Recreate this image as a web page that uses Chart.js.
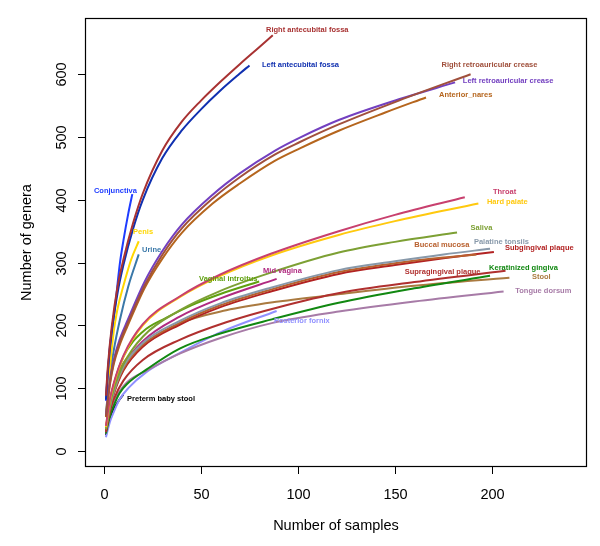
<!DOCTYPE html>
<html>
<head>
<meta charset="utf-8">
<title>Rarefaction curves</title>
<script src="https://cdn.jsdelivr.net/npm/chart.js@4.4.1/dist/chart.umd.min.js"></script>
<style>
    html, body { margin: 0; padding: 0; background: #fff; }
    #wrap { width: 600px; height: 546px; }
</style>
</head>
<body>
<div id="wrap"><canvas id="rarefactionChart" width="600" height="546"></canvas></div>
<script>
// Rarefaction curves: [number of samples, number of genera]
const rightAntecubitalFossa = [[1,88],[2,135],[4,198],[7,262],[10,305],[15,363],[20,410],[30,478],[40,524],[50,558],[60,588],[70,616],[80,643],[87,662]];
const leftAntecubitalFossa = [[1,82],[2,128],[4,190],[7,252],[10,296],[15,354],[20,400],[30,466],[40,510],[50,544],[60,574],[70,601],[75,614]];
const rightRetroauricularCrease = [[1,55],[3,108],[5,141],[8,172],[12,202],[21,264],[30,312],[40,354],[56,402],[70,436],[88,472],[101,492],[121,520],[152,558],[189,600]];
const leftRetroauricularCrease = [[1,58],[3,112],[5,145],[8,177],[12,207],[21,270],[30,318],[40,360],[56,408],[70,442],[88,478],[101,499],[121,527],[152,560],[181,587]];
const anteriorNares = [[1,54],[3,105],[5,138],[8,168],[12,198],[21,260],[30,306],[40,347],[56,394],[70,426],[88,462],[101,482],[121,510],[145,539],[166,563]];
const throat = [[1,40],[3,82],[5,108],[10,152],[20,202],[39,246],[60,281],[86,314],[121,350],[150,376],[186,404]];
const hardPalate = [[1,38],[3,80],[5,106],[10,150],[20,200],[39,245],[60,279],[86,311],[121,344],[150,366],[193,394]];
const saliva = [[1,35],[3,74],[5,98],[10,138],[20,182],[39,224],[60,255],[86,284],[121,316],[150,333],[182,348]];
const palatineTonsils = [[1,35],[3,70],[5,94],[10,134],[20,172],[39,207],[60,235],[86,260],[121,288],[150,302],[175,313],[199,322]];
const buccalMucosa = [[1,34],[3,68],[5,92],[10,131],[20,169],[39,204],[60,232],[86,257],[121,285],[150,299],[175,308],[192,313]];
const subgingivalPlaque = [[1,33],[3,66],[5,90],[10,128],[20,166],[39,201],[60,229],[86,254],[121,282],[150,296],[175,307],[201,317]];
const supragingivalPlaque = [[1,30],[3,62],[5,82],[10,112],[20,145],[39,177],[63,205],[90,229],[122,252],[160,269],[207,287]];
const keratinizedGingiva = [[1,28],[3,55],[5,72],[8,92],[12,107],[22,130],[39,163],[60,187],[87,210],[121,236],[160,259],[199,279]];
const stool = [[1,35],[3,78],[5,105],[10,140],[20,168],[39,203],[63,224],[90,238],[122,250],[160,263],[209,276]];
const tongueDorsum = [[1,30],[3,60],[5,78],[8,95],[12,110],[22,128],[39,155],[60,180],[87,204],[121,222],[160,238],[206,254]];
const posteriorFornix = [[1,22],[3,46],[5,62],[8,82],[12.5,100],[22,126],[39,156],[60,189],[89,223]];
const midVagina = [[1,32],[3,70],[5,95],[10,135],[20,175],[39,214],[60,243],[89,274]];
const vaginalIntroitus = [[1,35],[3,78],[5,105],[10,150],[20,190],[32,212],[45,232],[60,250],[80,270]];
const conjunctiva = [[1,80],[3,165],[5.7,230],[8.2,299],[10,335],[12.5,378],[14.6,409]];
const penis = [[1,55],[3,130],[5,190],[6.5,219],[8,240],[10.8,272],[14,305],[17.9,334]];
const urine = [[1,60],[3,120],[5,160],[8.2,209],[12.5,262],[17.9,313]];
const pretermBabyStool = [[1,25],[2,42],[4,60],[6,72],[8,82],[10,90]];

const siteNames = ['Right antecubital fossa', 'Left antecubital fossa', 'Right retroauricular crease',
    'Left retroauricular crease', 'Anterior_nares', 'Throat', 'Hard palate', 'Saliva', 'Palatine tonsils',
    'Buccal mucosa', 'Subgingival plaque', 'Supragingival plaque', 'Keratinized gingiva', 'Stool',
    'Tongue dorsum', 'Posterior fornix', 'Mid vagina', 'Vaginal introitus', 'Conjunctiva', 'Penis',
    'Urine', 'Preterm baby stool'];
const siteCurves = [rightAntecubitalFossa, leftAntecubitalFossa, rightRetroauricularCrease,
    leftRetroauricularCrease, anteriorNares, throat, hardPalate, saliva, palatineTonsils,
    buccalMucosa, subgingivalPlaque, supragingivalPlaque, keratinizedGingiva, stool,
    tongueDorsum, posteriorFornix, midVagina, vaginalIntroitus, conjunctiva, penis,
    urine, pretermBabyStool];
const siteColors = ['#A83232', '#1030B0', '#A0503C', '#7340C0', '#B5651D', '#C8406E', '#FFC90E',
    '#7DA034', '#8899AA', '#B8602E', '#B22222', '#B0302F', '#118811', '#AA7A40', '#A77BA7',
    '#9090FF', '#B02A80', '#5FA00F', '#1E3CFF', '#FFD700', '#3A78A8', '#000000'];

const xTicks = [0, 50, 100, 150, 200];
const yTicks = [0, 100, 200, 300, 400, 500, 600];

// where each site name is written (data units, left edge of the text)
const labelAt = [[83.5,670],[81.4,615],[174,615],[185,589],[172.7,567],[200.5,412],[197.4,396],
    [189,355],[190.7,333],[160,328],[206.7,323],[155,285],[198.5,291],[220.6,277],[212,255],
    [87.6,207],[82,287],[49,274],[-5.2,414],[15,349],[19.6,320],[11.9,83]];

const FONT = '"Liberation Sans", Arial, Helvetica, sans-serif';

// R-like box, ticks, tick labels, titles and curve labels
const rStylePlot = {
    id: 'rStylePlot',
    afterDatasetsDraw(chart) {
        const { ctx, chartArea: area, scales } = chart;
        const x = scales.x, y = scales.y;
        ctx.save();
        ctx.strokeStyle = '#000';
        ctx.fillStyle = '#000';
        ctx.lineWidth = 1.2;
        ctx.strokeRect(area.left + 0.5, area.top + 0.5, area.right - area.left - 1, area.bottom - area.top - 1);

        ctx.font = '14.5px ' + FONT;
        ctx.textAlign = 'center';
        ctx.textBaseline = 'middle';
        ctx.lineWidth = 1;
        xTicks.forEach(v => {
            const px = Math.round(x.getPixelForValue(v)) + 0.5;
            ctx.beginPath();
            ctx.moveTo(px, area.bottom);
            ctx.lineTo(px, area.bottom + 7);
            ctx.stroke();
            ctx.fillText(String(v), px, area.bottom + 28);
        });
        yTicks.forEach(v => {
            const py = Math.round(y.getPixelForValue(v)) + 0.5;
            ctx.beginPath();
            ctx.moveTo(area.left - 7, py);
            ctx.lineTo(area.left, py);
            ctx.stroke();
            ctx.save();
            ctx.translate(area.left - 23, py);
            ctx.rotate(-Math.PI / 2);
            ctx.fillText(String(v), 0, 0);
            ctx.restore();
        });

        ctx.fillText('Number of samples', (area.left + area.right) / 2, 526);
        ctx.save();
        ctx.translate(27, (area.top + area.bottom) / 2);
        ctx.rotate(-Math.PI / 2);
        ctx.fillText('Number of genera', 0, 0);
        ctx.restore();

        ctx.font = 'bold 7.5px ' + FONT;
        ctx.textAlign = 'left';
        siteNames.forEach((name, i) => {
            ctx.fillStyle = siteColors[i];
            ctx.fillText(name, x.getPixelForValue(labelAt[i][0]), y.getPixelForValue(labelAt[i][1]));
        });
        ctx.restore();
    }
};

const datasets = siteNames.map((name, i) => ({
    label: name,
    data: siteCurves[i].map(p => ({ x: p[0], y: p[1] })),
    borderColor: siteColors[i],
    backgroundColor: siteColors[i],
    borderWidth: 2,
    pointRadius: 0,
    fill: false,
    cubicInterpolationMode: 'monotone'
}));

new Chart(document.getElementById('rarefactionChart').getContext('2d'), {
    type: 'line',
    data: { datasets: datasets },
    options: {
        responsive: false,
        animation: false,
        devicePixelRatio: 1,
        layout: { padding: { left: 85, right: 13, top: 18, bottom: 79 } },
        plugins: { legend: { display: false }, tooltip: { enabled: false } },
        scales: {
            x: { type: 'linear', min: -9.8, max: 249, display: false },
            y: { type: 'linear', min: -25.5, max: 689.5, display: false }
        }
    },
    plugins: [rStylePlot]
});
</script>
</body>
</html>
